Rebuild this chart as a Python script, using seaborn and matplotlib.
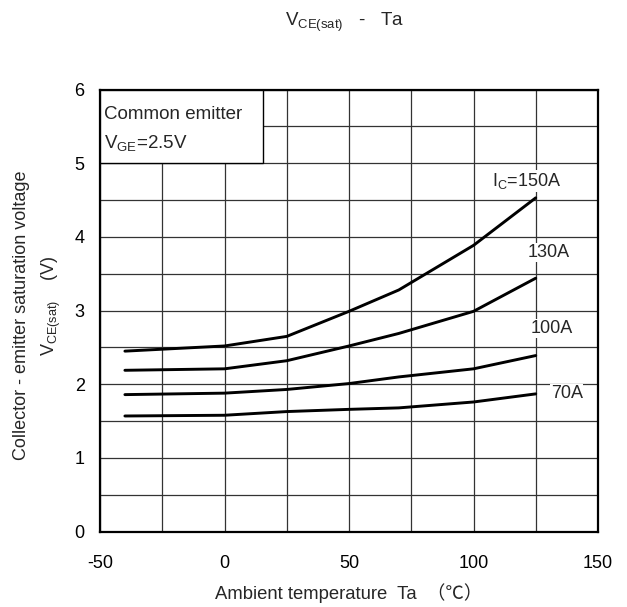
import numpy as np
import pandas as pd
import matplotlib
matplotlib.use("Agg")
import matplotlib.pyplot as plt
from matplotlib.patches import Rectangle
from matplotlib.ticker import MultipleLocator
import seaborn as sns

# ---- data ----
temps = [-40, 0, 25, 50, 70, 100, 125]
v_70 = [1.57, 1.58, 1.63, 1.66, 1.68, 1.76, 1.87]
v_100 = [1.86, 1.88, 1.93, 2.01, 2.10, 2.21, 2.39]
v_130 = [2.19, 2.21, 2.32, 2.52, 2.69, 2.99, 3.44]
v_150 = [2.45, 2.52, 2.65, 2.99, 3.28, 3.885, 4.53]
series_names = ["70A", "100A", "130A", "150A"]
curve_labels = ["70A", "100A", "130A", r"$\mathregular{I_C}$=150A"]
label_pos = [(131, 1.88), (123, 2.76), (121.6, 3.79), (107.3, 4.76)]
x_ticks = [-50, 0, 50, 100, 150]
y_ticks = [0, 1, 2, 3, 4, 5, 6]

sns.set_style("white")
plt.rcParams["font.family"] = ["Liberation Sans", "Noto Sans CJK JP", "DejaVu Sans"]
plt.rcParams["mathtext.fontset"] = "custom"
plt.rcParams["mathtext.rm"] = "Liberation Sans"
plt.rcParams["mathtext.it"] = "Liberation Sans"
plt.rcParams["axes.unicode_minus"] = False

df = pd.DataFrame({
    "Ta": temps * 4,
    "V": v_70 + v_100 + v_130 + v_150,
    "Ic": sum([[n] * len(temps) for n in series_names], []),
})

fig = plt.figure(figsize=(6.27, 6.07), dpi=100)
ax = fig.add_axes([100 / 627, 1 - 531.7 / 607, 498 / 627, (531.7 - 89.5) / 607])

sns.lineplot(data=df, x="Ta", y="V", hue="Ic",
             palette={n: "black" for n in series_names},
             linewidth=2.1, legend=False, ax=ax, zorder=2)

ax.set_xlim(-50, 150)
ax.set_ylim(0, 6)
ax.set_xticks(x_ticks)
ax.set_yticks(y_ticks)
ax.xaxis.set_minor_locator(MultipleLocator(25))
ax.yaxis.set_minor_locator(MultipleLocator(0.5))
ax.grid(True, which="both", color="#333333", linewidth=0.9)
ax.set_axisbelow(True)
ax.tick_params(axis="both", which="both", length=0, labelsize=13, colors="black")
ax.tick_params(axis="x", pad=17)
ax.tick_params(axis="y", pad=11)
for s in ax.spines.values():
    s.set_color("black")
    s.set_linewidth(1.6)
ax.set_xlabel("")
ax.set_ylabel("")

# condition box
ax.add_patch(Rectangle((-50, 5), 65.5, 1, facecolor="white", edgecolor="black",
                       linewidth=1.0, zorder=3))
ax.text(-48.4, 5.66, "Common emitter", fontsize=13.5, va="center", ha="left", zorder=4)
ax.text(-48.4, 5.27, r"$\mathregular{V_{GE}}$=2.5V", fontsize=13.5, va="center",
        ha="left", zorder=4)

# curve labels
for txt, (lx, ly) in zip(curve_labels, label_pos):
    ax.text(lx, ly, txt, fontsize=13, ha="left", va="center", zorder=4,
            bbox=dict(facecolor="white", edgecolor="none", pad=0.5))

# title and axis labels
fig.text(345 / 627, 1 - 22 / 607, r"$\mathregular{V_{CE(sat)}}$   -   Ta",
         fontsize=13.5, ha="center", va="center")
fig.text(349 / 627, 1 - 593 / 607, "Ambient temperature  Ta  （℃）",
         fontsize=13.3, ha="center", va="center")
fig.text(21.7 / 627, 1 - 315 / 607, "Collector - emitter saturation voltage",
         fontsize=13, rotation=90, ha="center", va="center")
fig.text(51.7 / 627, 1 - 306 / 607, r"$\mathregular{V_{CE(sat)}}$    (V)",
         fontsize=13, rotation=90, ha="center", va="center")

fig.savefig("out.png", dpi=100, facecolor="white")
